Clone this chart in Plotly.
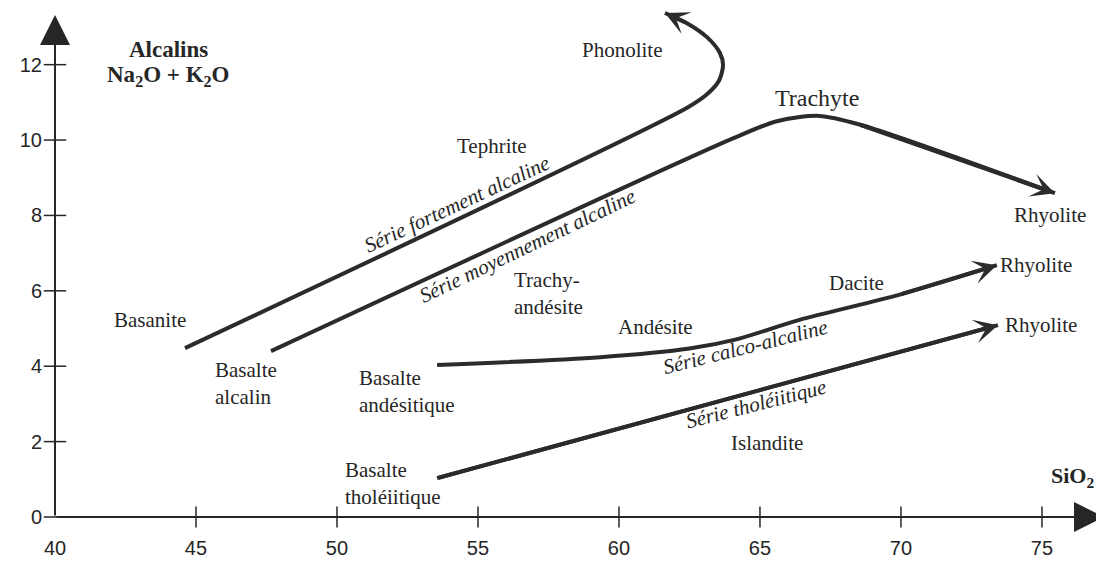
import plotly.graph_objects as go

# ---------------- data ----------------
x_ticks = [40, 45, 50, 55, 60, 65, 70, 75]
y_ticks = [0, 2, 4, 6, 8, 10, 12]

# Série fortement alcaline (Basanite -> Tephrite -> Phonolite)
fort_x = [44.61, 62.40, 63.10, 63.55, 63.69, 63.58, 63.12, 62.41, 61.63]
fort_y = [4.48, 10.85, 11.20, 11.58, 11.99, 12.31, 12.73, 13.10, 13.37]
# Série moyennement alcaline (Basalte alcalin -> Trachyte -> Rhyolite)
moy_x = [47.66, 64.00, 65.60, 67.10, 68.50, 75.46]
moy_y = [4.40, 10.03, 10.50, 10.64, 10.42, 8.59]
# Série calco-alcaline (Basalte andésitique -> Andésite -> Dacite -> Rhyolite)
calco_x = [53.55, 59.33, 62.50, 64.20, 66.40, 69.96, 73.40]
calco_y = [4.03, 4.24, 4.47, 4.72, 5.23, 5.90, 6.68]
# Série tholéiitique (Basalte tholéiitique -> Islandite -> Rhyolite)
thol_x = [53.55, 73.44]
thol_y = [1.03, 5.09]

rock_labels = ["Phonolite", "Tephrite", "Trachyte", "Rhyolite", "Rhyolite", "Rhyolite",
               "Basanite", "Trachy-<br>andésite", "Andésite", "Dacite", "Islandite"]
rock_x = [60.14, 55.50, 67.02, 75.28, 74.79, 74.96, 43.37, 56.21, 61.28, 68.44, 65.25]
rock_y = [12.39, 9.84, 11.11, 8.01, 6.68, 5.09, 5.23, 5.93, 5.04, 6.21, 1.96]
rock_anchor = ["center", "center", "center", "center", "center", "center",
               "center", "left", "center", "center", "center"]
rock_size = [21, 21, 24, 21, 21, 21, 21, 21, 21, 21, 21]

basalt_labels = ["Basalte<br>alcalin", "Basalte<br>andésitique", "Basalte<br>tholéiitique"]
basalt_x = [45.60, 50.71, 50.21]
basalt_y = [3.55, 3.34, 0.90]

series_labels = ["Série fortement alcaline", "Série moyennement alcaline",
                 "Série calco-alcaline", "Série tholéiitique"]
series_x = [54.26, 56.74, 64.47, 64.86]
series_y = [8.30, 7.19, 4.51, 3.00]
series_angle = [-25, -25.6, -14.1, -14.3]

INK = "#262626"
LINE = "#2b2b2b"
SERIF = "Liberation Serif, Times New Roman, serif"
SANS = "Liberation Sans, Arial, sans-serif"

fig = go.Figure()

for xs, ys in [(fort_x, fort_y), (moy_x, moy_y), (calco_x, calco_y), (thol_x, thol_y)]:
    fig.add_trace(go.Scatter(x=xs, y=ys, mode="lines",
                             line=dict(color=LINE, width=4, shape="spline", smoothing=0.8),
                             hoverinfo="skip", showlegend=False, cliponaxis=False))

# crossing tick marks on the axes
fig.add_trace(go.Scatter(x=x_ticks[1:], y=[0] * (len(x_ticks) - 1), mode="markers",
                         marker=dict(symbol="line-ns", size=15, line=dict(color=INK, width=1.5)),
                         hoverinfo="skip", showlegend=False, cliponaxis=False))
fig.add_trace(go.Scatter(x=[40] * len(y_ticks), y=y_ticks, mode="markers",
                         marker=dict(symbol="line-ew", size=16, line=dict(color=INK, width=1.5)),
                         hoverinfo="skip", showlegend=False, cliponaxis=False))

annotations = []
# arrowheads at end of series
for xs, ys in [(fort_x, fort_y), (moy_x, moy_y), (calco_x, calco_y), (thol_x, thol_y)]:
    annotations.append(dict(x=xs[-1], y=ys[-1], ax=xs[-2], ay=ys[-2], xref="x", yref="y",
                            axref="x", ayref="y", text="", showarrow=True, arrowhead=3,
                            arrowsize=1.0, arrowwidth=4, arrowcolor=LINE))
# axes with arrows
annotations.append(dict(x=77.2, y=0, ax=40, ay=0, xref="x", yref="y", axref="x", ayref="y",
                        text="", showarrow=True, arrowhead=2, arrowsize=3.0, arrowwidth=2,
                        arrowcolor=INK))
annotations.append(dict(x=40, y=13.32, ax=40, ay=0, xref="x", yref="y", axref="x", ayref="y",
                        text="", showarrow=True, arrowhead=2, arrowsize=3.0, arrowwidth=2,
                        arrowcolor=INK))

for t, x, y, a, s in zip(rock_labels, rock_x, rock_y, rock_anchor, rock_size):
    annotations.append(dict(x=x, y=y, text=t, showarrow=False, xanchor=a, align="left",
                            font=dict(family=SERIF, size=s, color=INK)))
for t, x, y in zip(basalt_labels, basalt_x, basalt_y):
    annotations.append(dict(x=x, y=y, text=t, showarrow=False, xanchor="left", align="left",
                            font=dict(family=SERIF, size=21, color=INK)))
for t, x, y, ang in zip(series_labels, series_x, series_y, series_angle):
    annotations.append(dict(x=x, y=y, text="<i>" + t + "</i>", showarrow=False, textangle=ang,
                            font=dict(family=SERIF, size=21, color=INK)))

annotations.append(dict(x=44.01, y=12.41, text="<b>Alcalins</b>", showarrow=False,
                        font=dict(family=SERIF, size=23, color=INK)))
annotations.append(dict(x=44.01, y=11.70, text="<b>Na<sub>2</sub>O + K<sub>2</sub>O</b>",
                        showarrow=False, font=dict(family=SERIF, size=23, color=INK)))
annotations.append(dict(x=76.10, y=1.06, text="<b>SiO<sub>2</sub></b>", showarrow=False,
                        font=dict(family=SERIF, size=22, color=INK)))

# page body adds an 8px margin, so the figure is sized to fit the 1104x562 window
fig.update_layout(
    width=1096, height=554,
    margin=dict(l=47, r=0, t=2, b=45),
    paper_bgcolor="white", plot_bgcolor="white",
    annotations=annotations,
    xaxis=dict(range=[40, 77.2], tickvals=x_ticks, ticktext=[str(v) for v in x_ticks],
               showgrid=False, zeroline=False, showline=False, ticks="", automargin=False,
               tickfont=dict(family=SANS, size=20, color=INK), ticklabelstandoff=17),
    yaxis=dict(range=[0, 13.45], tickvals=y_ticks, ticktext=[str(v) for v in y_ticks],
               showgrid=False, zeroline=False, showline=False, ticks="", automargin=False,
               tickfont=dict(family=SANS, size=20, color=INK), ticklabelstandoff=12),
)

fig.write_html("out.html")
